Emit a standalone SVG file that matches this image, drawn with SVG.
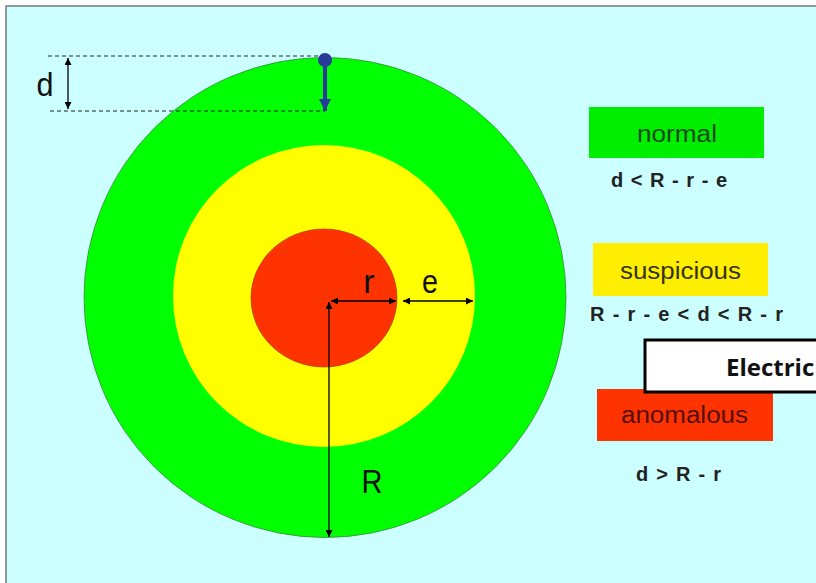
<svg xmlns="http://www.w3.org/2000/svg" width="816" height="583" viewBox="0 0 816 583">
<defs>
<style>
.lbl{font-family:"Liberation Sans",Arial,sans-serif;fill:#111;text-anchor:middle}
.leg{font-family:"Liberation Sans",Arial,sans-serif;font-size:23px}
.frm{font-family:"Liberation Sans",Arial,sans-serif;font-size:20px;font-weight:bold;fill:#222}
.dash{stroke:#222;stroke-width:1.2;stroke-dasharray:4,3;fill:none}
.dim{stroke:#000;stroke-width:1.3;fill:none}
</style>
<marker id="ah" viewBox="0 0 10 10" refX="10" refY="5" markerWidth="7" markerHeight="7" orient="auto-start-reverse" markerUnits="userSpaceOnUse">
<path d="M0,0 L10,5 L0,10 z" fill="#000"/>
</marker>
<marker id="bah" viewBox="0 0 10 10" refX="10" refY="5" markerWidth="12" markerHeight="12" orient="auto" markerUnits="userSpaceOnUse">
<path d="M0,0 L10,5 L0,10 z" fill="#2a3a9a"/>
</marker>
</defs>
<rect x="0" y="0" width="816" height="583" fill="#ffffff"/>
<rect x="6" y="6" width="820" height="590" fill="#ccffff" stroke="#777" stroke-width="1.5"/>
<g id="rings">
<ellipse cx="325" cy="297.5" rx="241" ry="240" fill="#00ff00" stroke="#3a8a3a" stroke-width="0.8"/>
<circle cx="324" cy="296" r="151" fill="#ffff00"/>
<ellipse cx="324" cy="298" rx="73" ry="69" fill="#ff3300" stroke="#993300" stroke-width="0.6"/>
</g>
<g id="connectors">
<line class="dash" x1="48" y1="56" x2="320" y2="56"/>
<line class="dash" x1="50" y1="111" x2="325" y2="111"/>
<line class="dim" x1="68" y1="58" x2="68" y2="109" marker-start="url(#ah)" marker-end="url(#ah)"/>
<line class="dim" x1="331" y1="301" x2="396" y2="301" marker-start="url(#ah)" marker-end="url(#ah)"/>
<line class="dim" x1="403" y1="301" x2="473" y2="301" marker-start="url(#ah)" marker-end="url(#ah)"/>
<line class="dim" x1="329" y1="302" x2="329" y2="537" marker-start="url(#ah)" marker-end="url(#ah)"/>
<g id="probe">
<line x1="325" y1="62" x2="325" y2="111" stroke="#2a3a9a" stroke-width="4" marker-end="url(#bah)"/>
<circle cx="325" cy="60" r="7" fill="#2a3a9a"/>
</g>
</g>
<g id="labels">
<text class="lbl" x="45" y="96" font-size="34" textLength="17" lengthAdjust="spacingAndGlyphs">d</text>
<text class="lbl" x="369" y="293" font-size="34">r</text>
<text class="lbl" x="430" y="293" font-size="34" textLength="16" lengthAdjust="spacingAndGlyphs">e</text>
<text class="lbl" x="372" y="493" font-size="34" textLength="21" lengthAdjust="spacingAndGlyphs">R</text>
</g>
<g id="normal">
<rect x="589" y="107" width="175" height="51" fill="#00ee00"/>
<text class="leg" x="637" y="142" fill="#1a4a1a" textLength="80" lengthAdjust="spacingAndGlyphs">normal</text>
<text class="frm" x="611" y="187" textLength="116" lengthAdjust="spacing">d &lt; R - r - e</text>
</g>
<g id="suspicious">
<rect x="593" y="243" width="175" height="53" fill="#ffee00"/>
<text class="leg" x="620" y="279" fill="#333310" textLength="121" lengthAdjust="spacingAndGlyphs">suspicious</text>
<text class="frm" x="590" y="321" textLength="193" lengthAdjust="spacing">R - r - e  &lt; d &lt; R - r</text>
</g>
<g id="anomalous">
<rect x="597" y="389" width="176" height="52" fill="#ff3300"/>
<text class="leg" x="621" y="423" fill="#551010" textLength="127" lengthAdjust="spacingAndGlyphs">anomalous</text>
<text class="frm" x="636" y="481" textLength="85" lengthAdjust="spacing">d &gt; R - r</text>
</g>
<g id="electric">
<rect x="645" y="340" width="190" height="52" fill="#ffffff" stroke="#000" stroke-width="3"/>
<text x="726" y="376" font-family="'Open Sans','Liberation Sans',sans-serif" font-size="24" font-weight="bold" fill="#111">Electric</text>
</g>
</svg>
